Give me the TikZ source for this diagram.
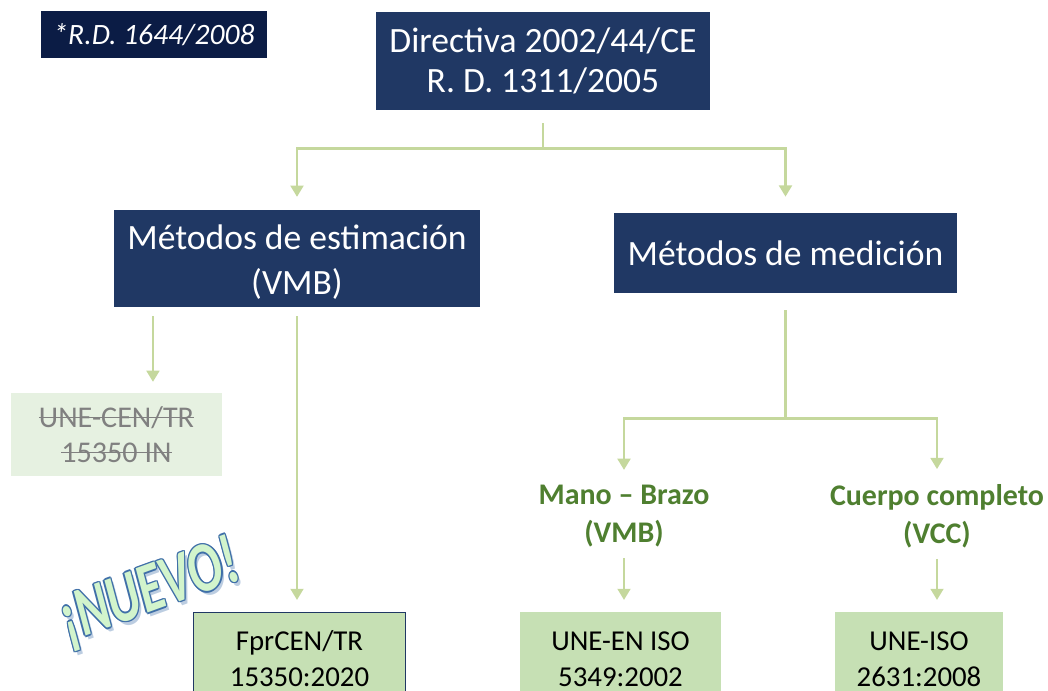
\documentclass[tikz,border=0pt]{standalone}
\usepackage{fontspec}
\setmainfont{Carlito}
\usepackage{xcolor}
\usepackage{tikz}
\usetikzlibrary{arrows.meta, positioning, calc}
\definecolor{navy}{HTML}{203864}
\definecolor{deepnavy}{HTML}{0B1C45}
\definecolor{linkgreen}{HTML}{C5D89D}
\definecolor{leafgreen}{HTML}{C6E0B4}
\definecolor{oldgreen}{HTML}{E6F1E1}
\definecolor{labelgreen}{HTML}{4F7F30}
\definecolor{nuevofill}{HTML}{D2F4CC}
\definecolor{nuevoline}{HTML}{3F6FA8}
\newcommand{\strikeout}[1]{\setbox0=\hbox{#1}\rlap{\rule[0.3em]{\wd0}{0.7pt}}\box0}
\newcommand{\nuevotext}{\scalebox{0.9}[1.25]{¡NUEVO!}}
\tikzset{
    darkbox/.style={rectangle, fill=navy, text=white, align=center, inner sep=2pt, font=\fontsize{25.3}{28.5}\selectfont},
    notebox/.style={rectangle, fill=deepnavy, text=white, align=center, inner sep=2pt, font=\fontsize{21}{24}\selectfont\itshape},
    leaf/.style={rectangle, fill=leafgreen, align=center, anchor=north, inner sep=2pt, font=\fontsize{20.5}{25.5}\selectfont},
    oldleaf/.style={rectangle, fill=oldgreen, text=black!50, align=center, inner sep=2pt, font=\fontsize{21.4}{25}\selectfont},
    branch/.style={text=labelgreen, align=center, inner sep=2pt, font=\fontsize{21.3}{27}\selectfont\bfseries},
    nuevo/.style={text=nuevofill, inner sep=0pt, rotate=20, font=\fontsize{40}{44}\selectfont\bfseries\itshape},
    link/.style={draw=linkgreen, line width=2pt},
    arrow/.style={link, -{Triangle[width=9pt,length=8pt]}},
}
\begin{document}
\begin{tikzpicture}[x=0.025cm, y=-0.025cm]
        \useasboundingbox (0,0) rectangle (1048,691);
        % Nodes
        \node [notebox, minimum width=5.65cm, minimum height=1.175cm] (rd) at (154,34.5) {*R.D. 1644/2008};
        \node [darkbox, minimum width=8.35cm, minimum height=2.45cm] (dir) at (543,61) {Directiva 2002/44/CE\\R. D. 1311/2005};
        \node [darkbox, font=\fontsize{25.3}{32}\selectfont, minimum width=9.15cm, minimum height=2.425cm] (est) at (297,258.5) {\rule{0pt}{0.8cm}Métodos de estimación\\(VMB)};
        \node [darkbox, minimum width=8.575cm, minimum height=2.0cm] (med) at (785.5,253) {Métodos de medición};
        \node [oldleaf, minimum width=5.275cm, minimum height=2.075cm] (cen) at (116.5,434.5) {\strikeout{UNE-CEN/TR}\\\strikeout{15350 IN}};
        \node [leaf, draw=navy, line width=1pt, minimum width=5.3cm, minimum height=2.3cm] (fpr) at (299.5,612) {\rule{0pt}{0.5cm}FprCEN/TR\\15350:2020};
        \node [branch] (mano) at (624,516) {Mano -- Brazo\\(VMB)};
        \node [branch] (cuerpo) at (937,516) {Cuerpo completo\\(VCC)};
        \node [leaf, minimum width=5.025cm, minimum height=2.3cm] (uneen) at (620.5,612) {\rule{0pt}{0.5cm}UNE-EN ISO\\5349:2002};
        \node [leaf, minimum width=4.2cm, minimum height=2.3cm] (uneiso) at (919,612) {\rule{0pt}{0.5cm}UNE-ISO\\2631:2008};

        % Tag (shadow, outline copies, fill)
        \node [nuevo, text=nuevoline!35] (shade) at (153,597) {\nuevotext};
        \foreach \a in {0,45,...,315}
            \node [nuevo, text=nuevoline] (out\a) at ($(150,593)+(\a:1.4)$) {\nuevotext};
        \node [nuevo] (tag) at (150,593) {\nuevotext};

        % Edges
        \draw [link] ([yshift=-0.32cm]dir.south) -- ++(0,25) coordinate (s1);
        \draw [arrow] (s1) -| ([yshift=0.32cm]est.north);
        \draw [arrow] (s1) -| ([yshift=0.4cm]med.north);
        \coordinate (e1) at ([xshift=-3.6cm,yshift=-0.22cm]est.south);
        \draw [arrow] (e1) -- ([yshift=0.27cm]e1 |- cen.north);
        \draw [arrow] ([yshift=-0.22cm]est.south) -- ([yshift=0.3cm]est.south |- fpr.north);
        \draw [link] ([yshift=-0.42cm]med.south) -- ++(0,108) coordinate (s2);
        \draw [arrow] (s2) -| ([yshift=0.3cm]mano.north);
        \draw [arrow] (s2) -| ([yshift=0.3cm]cuerpo.north);
        \draw [arrow] ([yshift=-0.2cm]mano.south) -- ([yshift=0.3cm]mano.south |- uneen.north);
        \draw [arrow] ([yshift=-0.2cm]cuerpo.south) -- ([yshift=0.3cm]cuerpo.south |- uneiso.north);
    \end{tikzpicture}
\end{document}
